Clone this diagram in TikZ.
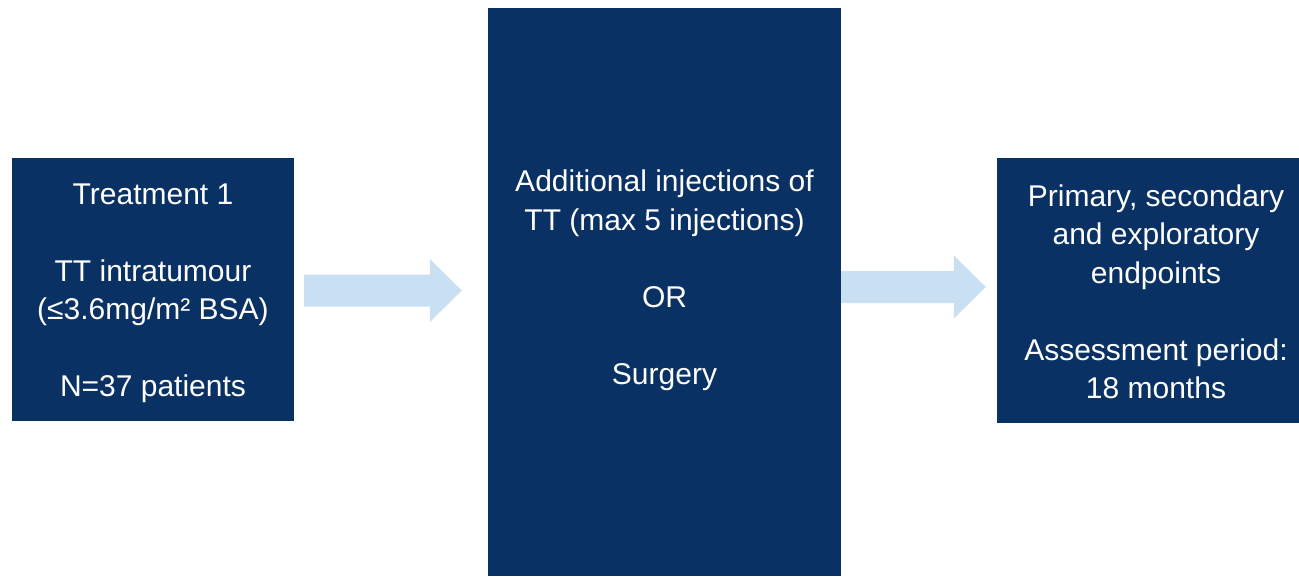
\documentclass[tikz,border=0pt]{standalone}
\usepackage{fontspec}
\setmainfont{Liberation Sans}
\usetikzlibrary{calc}
\definecolor{navy}{RGB}{10,49,99}
\definecolor{arrowfill}{RGB}{201,224,243}
\begin{document}
\begin{tikzpicture}[x=1pt,y=-1pt,
  box/.style={fill=navy,draw=none,inner sep=0pt,anchor=center},
  boxtext/.style={text=white,align=center,inner sep=0pt,font=\fontsize{30}{38.5}\selectfont},
  fat/.style={fill=arrowfill,draw=none}]
\useasboundingbox (0,0) rectangle (1299,576);
\node[box,minimum width=282pt,minimum height=263pt] (left) at (153,289.5) {};
\node[box,minimum width=353pt,minimum height=568pt] (mid) at (664.5,292) {};
\node[box,minimum width=302pt,minimum height=265pt] (right) at (1148,290.5) {};
\node[boxtext] (lefttext) at (153,293.5) {Treatment 1\\[38.5pt]TT intratumour\\(≤3.6mg/m²~BSA)\\[38.5pt]N=37 patients};
\node[boxtext] (midtext) at (664.5,280) {Additional injections of\\TT (max 5 injections)\\[38.5pt]OR\\[38.5pt]Surgery};
\node[boxtext] (righttext) at (1156,292) {Primary, secondary\\and exploratory\\endpoints\\[38.5pt]Assessment period:\\18 months};
% arrow 1
\coordinate (a1s) at ($(left.east)+(10,1)$);
\coordinate (a1e) at ($(mid.west)+(-26,-1.5)$);
\fill[fat] ($(a1s)+(0,-16)$) -- ($(a1e)+(-32,-16)$) -- ($(a1e)+(-32,-31.5)$) -- (a1e)
  -- ($(a1e)+(-32,31.5)$) -- ($(a1e)+(-32,16)$) -- ($(a1s)+(0,16)$) -- cycle;
% arrow 2
\coordinate (a2s) at ($(mid.east)+(0,-5)$);
\coordinate (a2e) at ($(right.west)+(-11,-3.5)$);
\fill[fat] ($(a2s)+(0,-16)$) -- ($(a2e)+(-32,-16)$) -- ($(a2e)+(-32,-31.5)$) -- (a2e)
  -- ($(a2e)+(-32,31.5)$) -- ($(a2e)+(-32,16)$) -- ($(a2s)+(0,16)$) -- cycle;
\end{tikzpicture}
\end{document}
